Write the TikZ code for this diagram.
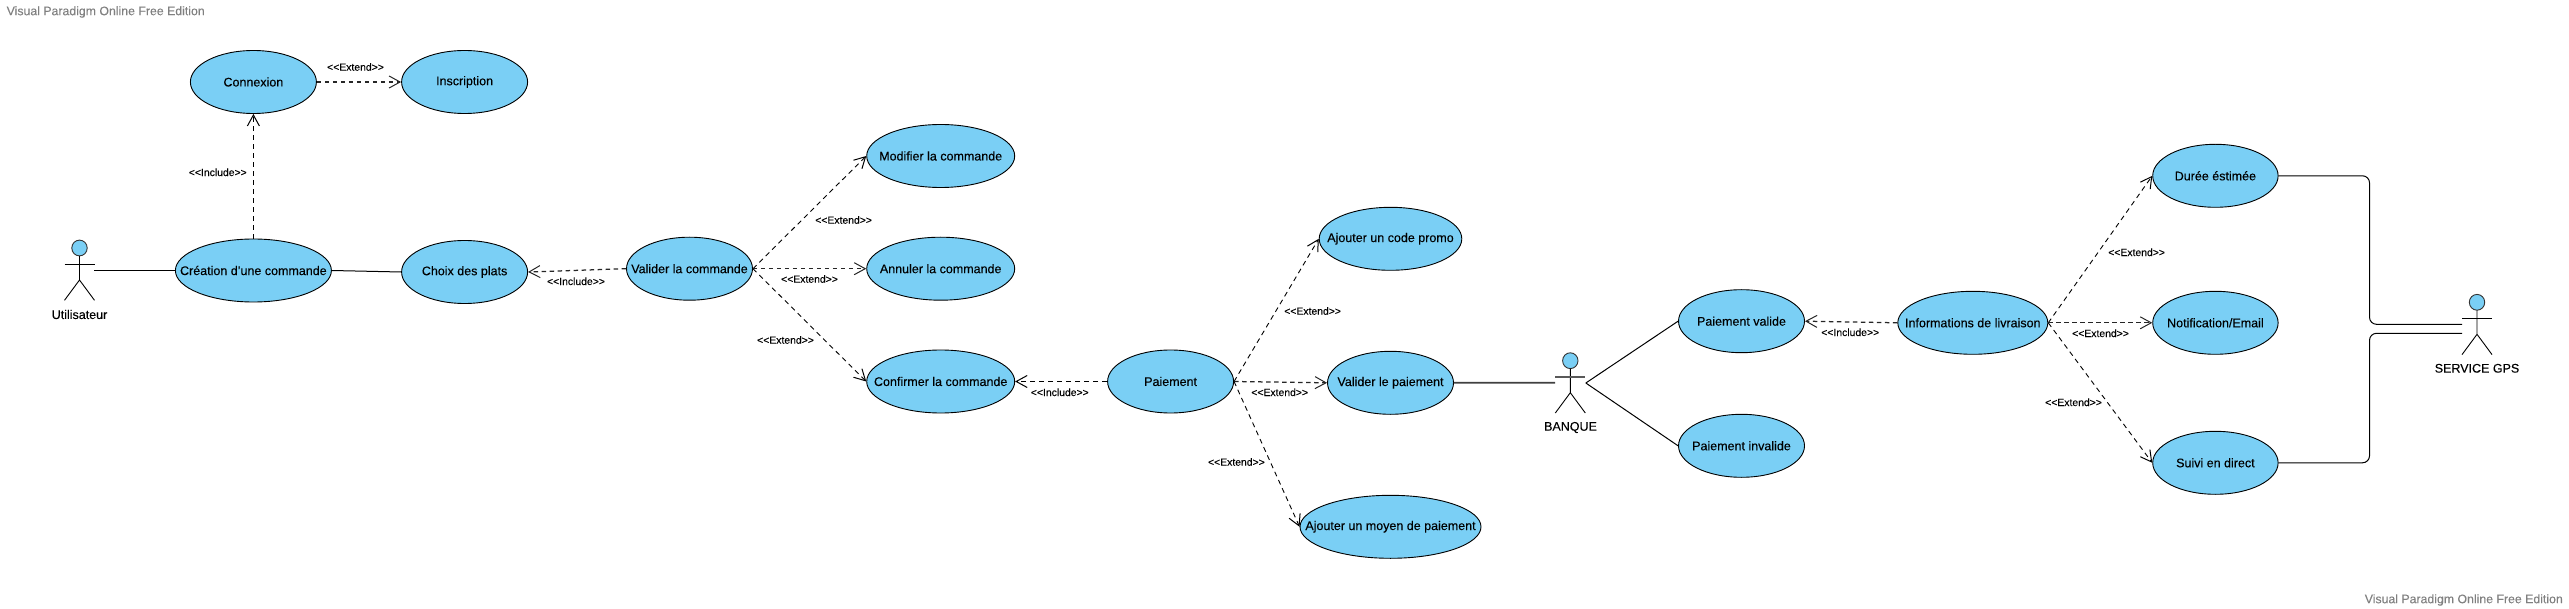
\documentclass[tikz,border=0pt]{standalone}
\usepackage{fontspec}
\setmainfont{Liberation Sans}[FakeBold=0.12]
\usetikzlibrary{arrows.meta,shapes.geometric}
\definecolor{uc}{RGB}{122,207,245}
\newcommand{\ct}[1]{\raisebox{-0.8pt}{\makebox[0pt]{#1}}}
\tikzset{
  x=1pt,y=-1pt,
  usecase/.style={draw=black,fill=uc,ellipse,line width=0.9pt,minimum width=126pt,minimum height=63pt,inner sep=0pt,font=\fontsize{12.5}{14}\selectfont,text=black},
  rel/.style={draw=black,line width=0.9pt,dash pattern=on 5pt off 4pt,-{Straight Barb[length=11pt,width=12pt,line width=1pt]}},
  relh/.style={rel,draw=black!85,line width=1.25pt,dash pattern=on 4.5pt off 3.5pt},
  assoc/.style={draw=black,line width=1pt},
  stereo/.style={font=\fontsize{10.4}{12}\selectfont,inner sep=0pt,text=black},
  actlabel/.style={font=\fontsize{12.5}{14}\selectfont,inner sep=0pt,text=black},
  wm/.style={font=\fontsize{12.3}{14}\selectfont,inner sep=0pt,text=black!50},
  actorline/.style={draw=black,line width=0.9pt},
  actorhead/.style={draw=black!80,fill=uc,line width=0.9pt},
  armcolor/.style={},
  actor/.pic={
    \draw[actorhead] (0,8) ellipse [x radius=7.7pt,y radius=7.9pt];
    \draw[actorline] (0,16)--(0,40) (-15,60.3)--(0,40)--(15,60.3);
    \draw[actorline,armcolor] (-15,24.2)--(15,24.2);
  },
}
\begin{document}
\begin{tikzpicture}
\useasboundingbox (0,0) rectangle (2569,609);
\node[wm,anchor=west] (wm1) at (6.5,12) {Visual Paradigm Online Free Edition};
\node[wm,anchor=east] (wm2) at (2563,600) {Visual Paradigm Online Free Edition};

\node[usecase] (conn) at (253.4,82) {\ct{Connexion}};
\node[usecase] (insc) at (464.6,82) {\ct{Inscription}};
\node[usecase,minimum width=156pt] (crea) at (253.4,270.5) {\ct{Création d'une commande}};
\node[usecase] (choix) at (464.6,272) {\ct{Choix des plats}};
\node[usecase] (valc) at (689.5,268.7) {\ct{Valider la commande}};
\node[usecase,minimum width=148pt] (modif) at (940.7,156) {\ct{Modifier la commande}};
\node[usecase,minimum width=148pt] (annul) at (940.7,268.7) {\ct{Annuler la commande}};
\node[usecase,minimum width=148pt] (conf) at (940.7,381.5) {\ct{Confirmer la commande}};
\node[usecase] (paie) at (1170.6,381.5) {\ct{Paiement}};
\node[usecase,minimum width=142.6pt] (promo) at (1390.5,238.8) {\ct{Ajouter un code promo}};
\node[usecase] (valp) at (1390.5,382.8) {\ct{Valider le paiement}};
\node[usecase,minimum width=181pt] (moyen) at (1390.5,526.8) {\ct{Ajouter un moyen de paiement}};
\node[usecase] (pv) at (1741.5,321.2) {\ct{Paiement valide}};
\node[usecase] (pi) at (1741.5,445.8) {\ct{Paiement invalide}};
\node[usecase,minimum width=150pt] (info) at (1972.8,322.8) {\ct{Informations de livraison}};
\node[usecase,minimum width=125.4pt] (duree) at (2215.4,175.8) {\ct{Durée éstimée}};
\node[usecase,minimum width=125.4pt] (notif) at (2215.4,322.8) {\ct{Notification/Email}};
\node[usecase,minimum width=125.4pt] (suivi) at (2215.4,462.8) {\ct{Suivi en direct}};

\pic at (79.5,240) {actor};
\pic[armcolor/.style={draw=black!65,line width=1.5pt}] at (1570.3,352.7) {actor};
\pic at (2477,294.3) {actor};
\node[actlabel] (ul) at (79.5,314.5) {Utilisateur};
\node[actlabel] (bl) at (1570.5,427.5) {BANQUE};
\node[actlabel] (gl) at (2477,368.3) {SERVICE GPS};

\coordinate (ua) at (94.3,270.3);
\coordinate (ba) at (1555,382.7);
\coordinate (bb) at (1585.8,383);
\coordinate (g1) at (2462,324.3);
\coordinate (g2) at (2462,333.3);

\draw[assoc] (ua) -- (crea.west |- ua);
\draw[assoc] (crea.east) -- (choix.west);
\draw[assoc,draw=black!75,line width=1.6pt] (valp.east) -- (ba);
\draw[assoc] (bb) -- (pv.west);
\draw[assoc] (bb) -- (pi.west);
\draw[assoc,rounded corners=7pt] (duree.east) -- (2369.5,175.8) -- (2369.5,324.3) -- (g1);
\draw[assoc,rounded corners=7pt] (suivi.east) -- (2369.5,462.8) -- (2369.5,333.3) -- (g2);

\draw[relh] (conn.east) -- (insc.west);
\draw[rel] (crea.north) -- (conn.south);
\draw[relh] (valc.west) -- (choix.east);
\draw[rel] (valc.east) -- (modif.west);
\draw[relh] (valc.east) -- (annul.west);
\draw[rel] (valc.east) -- (conf.west);
\draw[rel] (paie.west) -- (conf.east);
\draw[rel] (paie.east) -- (promo.west);
\draw[relh] (paie.east) -- (valp.west);
\draw[rel] (paie.east) -- (moyen.west);
\draw[relh] (info.west) -- (pv.east);
\draw[rel] (info.east) -- (duree.west);
\draw[relh] (info.east) -- (notif.west);
\draw[rel] (info.east) -- (suivi.west);

\node[stereo] (s1) at (355.5,67) {<{}<Extend>{}>};
\node[stereo] (s2) at (217.8,172.3) {<{}<Include>{}>};
\node[stereo] (s3) at (576,281.3) {<{}<Include>{}>};
\node[stereo] (s4) at (843.6,220) {<{}<Extend>{}>};
\node[stereo] (s5) at (809.5,279) {<{}<Extend>{}>};
\node[stereo] (s6) at (785.5,340) {<{}<Extend>{}>};
\node[stereo] (s7) at (1312.6,311) {<{}<Extend>{}>};
\node[stereo] (s8) at (1059.8,392.3) {<{}<Include>{}>};
\node[stereo] (s9) at (1279.7,392.3) {<{}<Extend>{}>};
\node[stereo] (s10) at (1236.4,462) {<{}<Extend>{}>};
\node[stereo] (s11) at (1850.2,332.3) {<{}<Include>{}>};
\node[stereo] (s12) at (2100.5,333.3) {<{}<Extend>{}>};
\node[stereo] (s13) at (2136.6,252.3) {<{}<Extend>{}>};
\node[stereo] (s14) at (2073.5,402.3) {<{}<Extend>{}>};
\end{tikzpicture}
\end{document}
